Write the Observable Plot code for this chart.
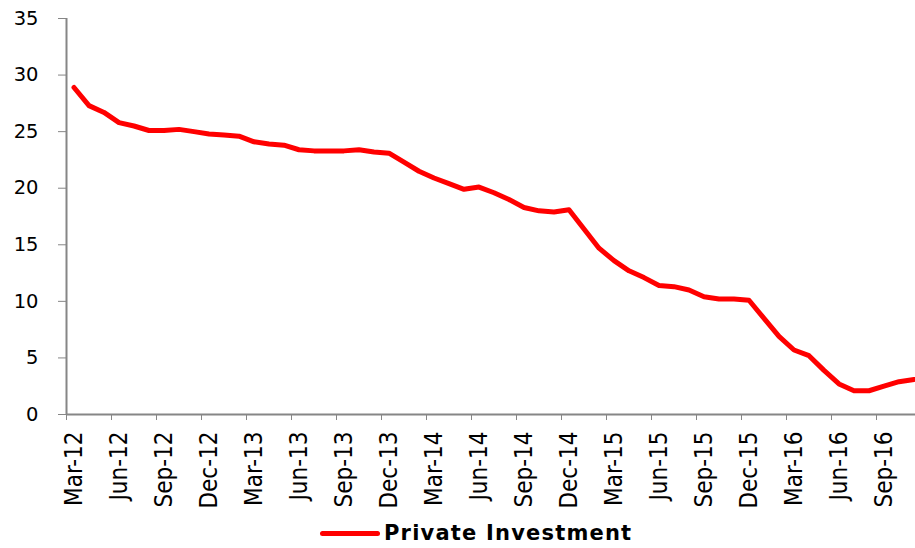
<!DOCTYPE html>
<html>
<head>
<meta charset="utf-8">
<script src="https://cdn.jsdelivr.net/npm/d3@7"></script>
<script src="https://cdn.jsdelivr.net/npm/@observablehq/plot@0.6"></script>
<style>
  html, body { margin: 0; padding: 0; background: #fff; }
  #chart svg { display: block; }
  .legend { height: 43px; position: relative; font-family: "DejaVu Sans", Verdana, sans-serif; }
  .legend .item { position: absolute; left: 320px; top: 16px; display: flex; align-items: center; }
  .legend .swatch { width: 60px; height: 5px; background: #ff0000; border-radius: 3px; margin-right: 4px; }
  .legend .label { font-weight: bold; font-size: 21px; letter-spacing: 1.2px; color: #000; }
</style>
</head>
<body>
<div id="chart"></div>
<div class="legend"><div class="item"><div class="swatch"></div><div class="label">Private Investment</div></div></div>
<script>
// Monthly series, Mar-12 .. Nov-16 (index 0 = Mar-12)
const seriesName = "Private Investment";
const values = [
  28.9, 27.3, 26.7, 25.8, 25.5, 25.1, 25.1, 25.2, 25.0, 24.8,
  24.7, 24.6, 24.1, 23.9, 23.8, 23.4, 23.3, 23.3, 23.3, 23.4,
  23.2, 23.1, 22.3, 21.5, 20.9, 20.4, 19.9, 20.1, 19.6, 19.0,
  18.3, 18.0, 17.9, 18.1, 16.4, 14.7, 13.6, 12.7, 12.1, 11.4,
  11.3, 11.0, 10.4, 10.2, 10.2, 10.1, 8.5, 6.9, 5.7, 5.2,
  3.9, 2.7, 2.1, 2.1, 2.5, 2.9, 3.1
];
const tickLabels = [
  "Mar-12","Jun-12","Sep-12","Dec-12","Mar-13","Jun-13","Sep-13","Dec-13",
  "Mar-14","Jun-14","Sep-14","Dec-14","Mar-15","Jun-15","Sep-15","Dec-15",
  "Mar-16","Jun-16","Sep-16"
];
const yTicks = [0, 5, 10, 15, 20, 25, 30, 35];

const data = values.map((v, i) => ({i, v}));
const labelPos = tickLabels.map((_, k) => 3 * k);          // category centers
const boundaryPos = tickLabels.map((_, k) => 3 * k - 0.5); // category boundaries
const gray = "#868686";

const chart = Plot.plot({
  width: 915,
  height: 505,
  marginTop: 18,
  marginBottom: 91,
  marginLeft: 66,
  marginRight: 0,
  style: { background: "#fff", overflow: "visible" },
  x: { domain: [-0.5, 56.1] },
  y: { domain: [0, 35] },
  marks: [
    Plot.axisY({
      ticks: yTicks, tickSize: 8, tickPadding: 20, stroke: gray, color: "#000",
      fontSize: 19.5, fontFamily: "DejaVu Sans, Verdana, sans-serif", label: null
    }),
    Plot.axisX({ ticks: boundaryPos, tickSize: 6, stroke: gray, tickFormat: () => "", label: null }),
    Plot.axisX({
      ticks: labelPos, tickSize: 0, tickPadding: 17, tickRotate: -90,
      tickFormat: i => tickLabels[i / 3], color: "#000",
      fontSize: 24, fontFamily: "'Liberation Sans Narrow', 'DejaVu Sans Condensed', 'Arial Narrow', sans-serif",
      label: null
    }),
    Plot.ruleX([-0.5], { y1: 0, y2: 35, stroke: gray, strokeWidth: 2 }),
    Plot.ruleY([0], { x1: -0.5, x2: 56.1, stroke: gray, strokeWidth: 2 }),
    Plot.line(data, { x: "i", y: "v", stroke: "#ff0000", strokeWidth: 5, strokeLinejoin: "round", strokeLinecap: "round" })
  ]
});
document.getElementById("chart").appendChild(chart);
</script>
</body>
</html>
